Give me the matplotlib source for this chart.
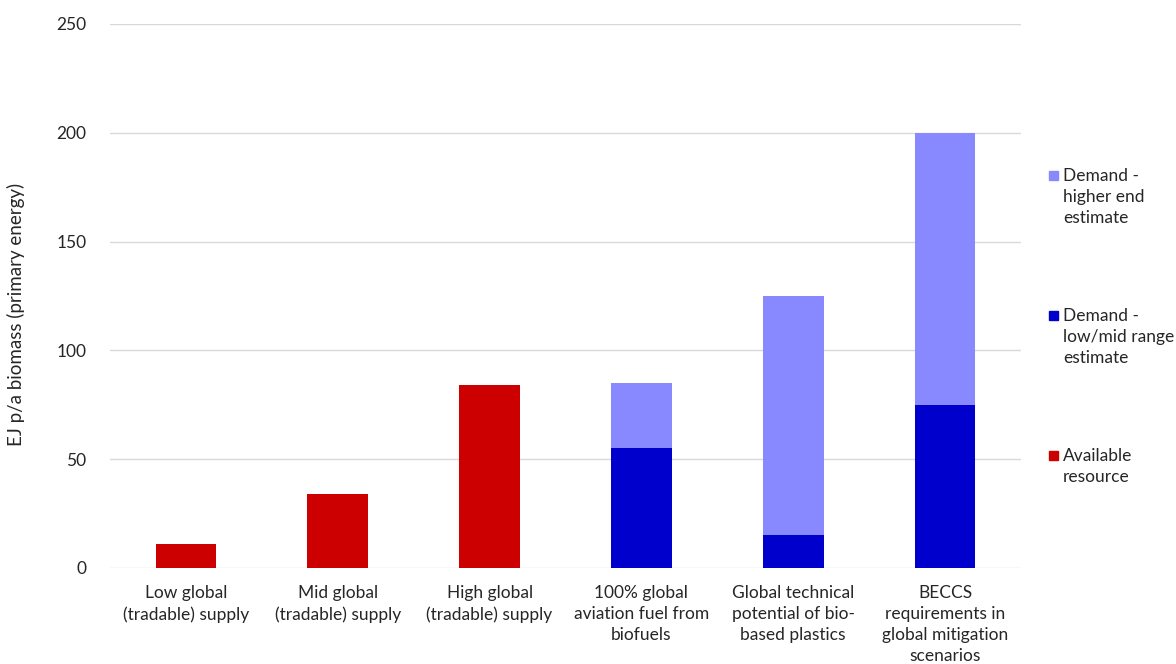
import matplotlib.pyplot as plt
from matplotlib.patches import Rectangle
import numpy as np

plt.rcParams['font.family'] = ['Lato', 'DejaVu Sans']

# categories on the x axis
categories = [
    'Low global\n(tradable) supply',
    'Mid global\n(tradable) supply',
    'High global\n(tradable) supply',
    '100% global\naviation fuel from\nbiofuels',
    'Global technical\npotential of bio-\nbased plastics',
    'BECCS\nrequirements in\nglobal mitigation\nscenarios',
]

# series values (EJ p/a)
available = [11, 34, 84, 0, 0, 0]
demand_low = [0, 0, 0, 55, 15, 75]
demand_high_total = [0, 0, 0, 85, 125, 200]
demand_high = [h - l if h else 0 for h, l in zip(demand_high_total, demand_low)]

red = '#CC0000'
dark_blue = '#0000CC'
light_blue = '#8888FF'
txt = '#262626'

fig = plt.figure(figsize=(11.76, 6.64), dpi=100)
ax = fig.add_axes([110 / 1176, 1 - 568 / 664, (1021 - 110) / 1176, (568 - 24) / 664])

x = np.arange(len(categories))
w = 0.4
ax.bar(x, available, w, color=red, zorder=3)
ax.bar(x, demand_low, w, color=dark_blue, zorder=3)
ax.bar(x, demand_high, w, bottom=demand_low, color=light_blue, zorder=3)

ax.set_xlim(-0.5, len(categories) - 0.5)
ax.set_ylim(0, 250)
ax.set_yticks(range(0, 251, 50))
ax.grid(axis='y', color='#d9d9d9', linewidth=1, zorder=0)
for s in ax.spines.values():
    s.set_visible(False)
ax.tick_params(axis='both', length=0, labelsize=12.5, colors=txt)
ax.tick_params(axis='y', pad=17)
ax.tick_params(axis='x', pad=12)
ax.set_xticks(x)
ax.set_xticklabels(categories, linespacing=1.4)
ax.set_ylabel('EJ p/a biomass (primary energy)', fontsize=13.5, color=txt)
ax.yaxis.set_label_coords(-85 / 911, 0.467)

# legend drawn by hand so the square sits on the first line
legend_items = [
    ('Demand -\nhigher end\nestimate', light_blue, 175),
    ('Demand -\nlow/mid range\nestimate', dark_blue, 315),
    ('Available\nresource', red, 455),
]
for label, col, ypx in legend_items:
    fig.add_artist(Rectangle((1049 / 1176, 1 - (ypx + 5) / 664), 9 / 1176, 9 / 664,
                             transform=fig.transFigure, color=col))
    fig.text(1063 / 1176, 1 - (ypx - 7) / 664, label, fontsize=12.5, color=txt,
             va='top', ha='left', linespacing=1.4)

fig.savefig('out.png', dpi=100)
